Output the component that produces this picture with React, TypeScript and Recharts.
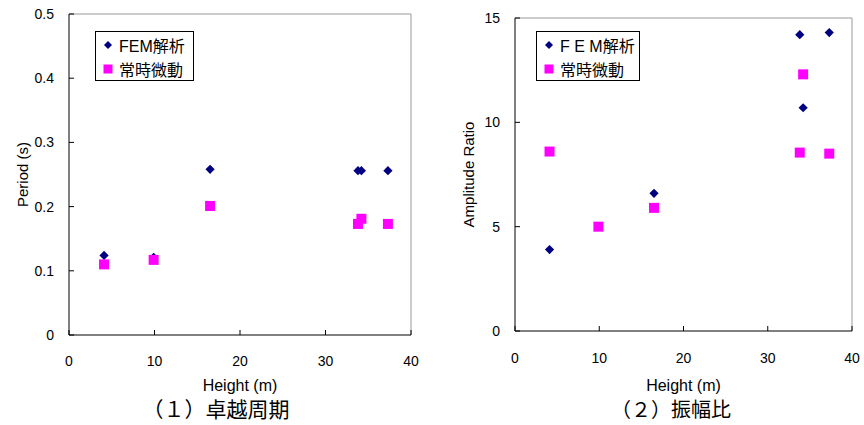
import React from 'react';
import { ScatterChart, Scatter, XAxis, YAxis, ReferenceLine, Legend, Label } from 'recharts';

// heights of the measured points (m)
const heights = [4.1, 9.9, 16.5, 33.8, 34.2, 37.3];
// (1) predominant period (s)
const periodFem = [0.124, 0.121, 0.258, 0.256, 0.256, 0.256];
const periodMicro = [0.110, 0.117, 0.201, 0.173, 0.181, 0.173];
// (2) amplitude ratio
const ampFem = [3.9, 5.0, 6.6, 14.2, 10.7, 14.3];
const ampMicro = [8.6, 5.0, 5.9, 8.55, 12.3, 8.5];

const heightTicks = [0, 10, 20, 30, 40];
const periodTicks = [0, 0.1, 0.2, 0.3, 0.4, 0.5];
const ampTicks = [0, 5, 10, 15];

const FONT = "'Liberation Sans', Arial, 'Noto Sans CJK JP', sans-serif";
const NAVY = '#000080';
const MAGENTA = '#FF00FF';

const toPoints = (ys: number[]) => heights.map((h, i) => ({ x: h, y: ys[i] }));

const Diamond = (props: any) => {
    const { cx, cy } = props;
    const r = 4.6;
    return <polygon points={`${cx},${cy - r} ${cx + r},${cy} ${cx},${cy + r} ${cx - r},${cy}`} fill={NAVY} />;
};

const Square = (props: any) => {
    const { cx, cy } = props;
    return <rect x={cx - 5} y={cy - 5} width={10} height={10} fill={MAGENTA} />;
};

function LegendBox({ width, femLabel }: { width: number; femLabel: string }) {
    return (
        <div style={{ width, height: 50, boxSizing: 'border-box', border: '1px solid #000', background: '#fff', fontFamily: FONT, fontSize: 16, color: '#000' }}>
            <div style={{ height: 25, display: 'flex', alignItems: 'center', paddingLeft: 7 }}>
                <svg width={10} height={10} style={{ marginRight: 6 }}>
                    <polygon points="5,1 9,5 5,9 1,5" fill={NAVY} />
                </svg>
                <span>{femLabel}</span>
            </div>
            <div style={{ height: 24, display: 'flex', alignItems: 'center', paddingLeft: 7 }}>
                <svg width={10} height={10} style={{ marginRight: 6 }}>
                    <rect x={0.5} y={0.5} width={9} height={9} fill={MAGENTA} />
                </svg>
                <span>常時微動</span>
            </div>
        </div>
    );
}

const yTitle = (text: string, x: number) => (props: any) => {
    const vb = props.viewBox;
    const cy = vb.y + vb.height / 2;
    return (
        <text x={x} y={cy} transform={`rotate(-90 ${x} ${cy})`} textAnchor="middle" dominantBaseline="central"
            fontFamily={FONT} fontSize={15} fill="#000">{text}</text>
    );
};

const xTitle = (y: number) => (props: any) => {
    const vb = props.viewBox;
    const cx = vb.x + vb.width / 2;
    return (
        <text x={cx} y={y} textAnchor="middle" dominantBaseline="central" fontFamily={FONT} fontSize={16} fill="#000">
            Height (m)
        </text>
    );
};

const tickStyle = { fontFamily: FONT, fontSize: 14, fill: '#000' };
const axisStroke = { stroke: '#000' };

function PeriodChart() {
    return (
        <ScatterChart width={432} height={425} margin={{ top: 14, right: 21, left: 0, bottom: 60 }}>
            <XAxis type="number" dataKey="x" domain={[0, 40]} ticks={heightTicks} height={30}
                tickSize={-5} tickMargin={26} tick={tickStyle} axisLine={axisStroke} tickLine={axisStroke}>
                <Label content={xTitle(385)} />
            </XAxis>
            <YAxis type="number" dataKey="y" domain={[0, 0.5]} ticks={periodTicks} width={69}
                tickSize={-5} tickMargin={20} tick={tickStyle} axisLine={axisStroke} tickLine={axisStroke}>
                <Label content={yTitle('Period (s)', 22)} />
            </YAxis>
            <ReferenceLine y={0.5} stroke="#999" />
            <ReferenceLine x={40} stroke="#999" />
            <Scatter name="FEM解析" data={toPoints(periodFem)} shape={Diamond} isAnimationActive={false} />
            <Scatter name="常時微動" data={toPoints(periodMicro)} shape={Square} isAnimationActive={false} />
            <Legend layout="vertical" align="center" verticalAlign="middle"
                wrapperStyle={{ position: 'absolute', left: 95, top: 31, width: 'auto' }}
                content={() => <LegendBox width={99} femLabel="FEM解析" />} />
        </ScatterChart>
    );
}

function AmplitudeChart() {
    return (
        <ScatterChart width={432} height={425} margin={{ top: 18, right: 12, left: 0, bottom: 64 }}>
            <XAxis type="number" dataKey="x" domain={[0, 40]} ticks={heightTicks} height={30}
                tickSize={-5} tickMargin={27} tick={tickStyle} axisLine={axisStroke} tickLine={axisStroke}>
                <Label content={xTitle(385)} />
            </XAxis>
            <YAxis type="number" dataKey="y" domain={[0, 15]} ticks={ampTicks} width={83}
                tickSize={-5} tickMargin={20} tick={tickStyle} axisLine={axisStroke} tickLine={axisStroke}>
                <Label content={yTitle('Amplitude Ratio', 36)} />
            </YAxis>
            <ReferenceLine y={15} stroke="#999" />
            <ReferenceLine x={40} stroke="#999" />
            <Scatter name="FEM解析" data={toPoints(ampFem)} shape={Diamond} isAnimationActive={false} />
            <Scatter name="常時微動" data={toPoints(ampMicro)} shape={Square} isAnimationActive={false} />
            <Legend layout="vertical" align="center" verticalAlign="middle"
                wrapperStyle={{ position: 'absolute', left: 104, top: 31, width: 'auto' }}
                content={() => <LegendBox width={104} femLabel="F E M解析" />} />
        </ScatterChart>
    );
}

const captionStyle: React.CSSProperties = {
    position: 'absolute', top: 398, fontFamily: FONT, lineHeight: '24px',
    color: '#000', whiteSpace: 'nowrap', transform: 'translateX(-50%)',
};

export default function App() {
    return (
        <div style={{ position: 'absolute', left: 0, top: 0, width: 864, height: 425, background: '#fff', overflow: 'hidden' }}>
            <div style={{ position: 'absolute', left: 0, top: 0 }}>
                <PeriodChart />
            </div>
            <div style={{ position: 'absolute', left: 432, top: 0 }}>
                <AmplitudeChart />
            </div>
            <div style={{ ...captionStyle, left: 216, fontSize: 21 }}>（１）卓越周期</div>
            <div style={{ ...captionStyle, left: 671, fontSize: 20 }}>（２）振幅比</div>
        </div>
    );
}
